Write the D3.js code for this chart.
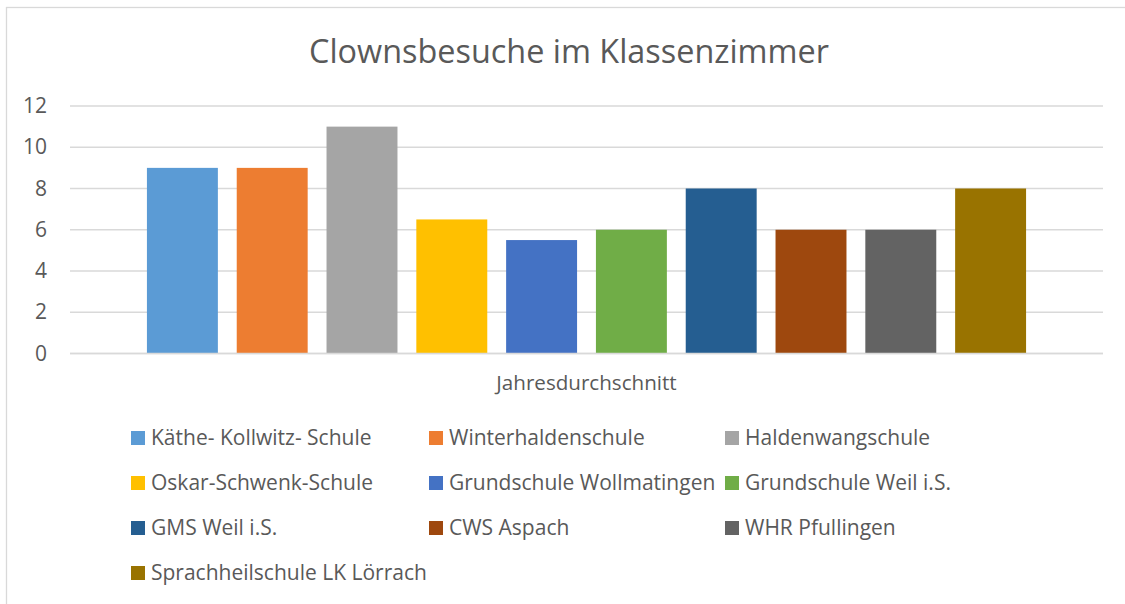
<!DOCTYPE html>
<html>
<head>
<meta charset="utf-8">
<script src="https://cdn.jsdelivr.net/npm/d3@7"></script>
<style>
  html, body { margin: 0; padding: 0; background: #fff; }
  svg { display: block; font-family: "Open Sans", sans-serif; }
</style>
</head>
<body>
<svg id="chart" width="1125" height="604"></svg>
<script>
const title = "Clownsbesuche im Klassenzimmer";
const category = "Jahresdurchschnitt";
const schools = [
  "Käthe- Kollwitz- Schule", "Winterhaldenschule", "Haldenwangschule",
  "Oskar-Schwenk-Schule", "Grundschule Wollmatingen", "Grundschule Weil i.S.",
  "GMS Weil i.S.", "CWS Aspach", "WHR Pfullingen", "Sprachheilschule LK Lörrach"
];
const values = [9, 9, 11, 6.5, 5.5, 6, 8, 6, 6, 8];
const colors = ["#5B9BD5", "#ED7D31", "#A5A5A5", "#FFC000", "#4472C4",
                "#70AD47", "#255E91", "#9E480E", "#636363", "#997300"];
const yTicks = [0, 2, 4, 6, 8, 10, 12];

const svg = d3.select("#chart");
const textColor = "#595959";

// chart area border
svg.append("rect").attr("x", 6.5).attr("y", 7.5).attr("width", 1140).attr("height", 620)
  .attr("fill", "none").attr("stroke", "#d9d9d9").attr("stroke-width", 1.3);

const plot = { left: 70, right: 1103, top: 106, bottom: 353.5 };

const y = d3.scaleLinear().domain([0, 12]).range([plot.bottom, plot.top]);
const x = d3.scaleBand().domain(schools).range([137.5, 1035.5])
  .paddingInner(0.21).paddingOuter(0.105);

// gridlines
svg.append("g").selectAll("line").data(yTicks).join("line")
  .attr("x1", plot.left).attr("x2", plot.right)
  .attr("y1", d => y(d)).attr("y2", d => y(d))
  .attr("stroke", "#d9d9d9").attr("stroke-width", 1.3);

// y axis labels
const yAxis = d3.axisLeft(y).tickValues(yTicks).tickSize(0).tickPadding(0);
const gy = svg.append("g").attr("transform", "translate(47,0)").call(yAxis);
gy.select(".domain").remove();
gy.selectAll("text").attr("fill", textColor).attr("font-size", 21)
  .attr("font-family", "'Open Sans', sans-serif");

// bars
svg.append("g").selectAll("rect").data(schools).join("rect")
  .attr("x", d => x(d)).attr("width", x.bandwidth())
  .attr("y", (d, i) => y(values[i]))
  .attr("height", (d, i) => y(0) - y(values[i]))
  .attr("fill", (d, i) => colors[i]);

// baseline over bars
svg.append("line").attr("x1", plot.left).attr("x2", plot.right)
  .attr("y1", y(0)).attr("y2", y(0)).attr("stroke", "#d9d9d9").attr("stroke-width", 1.3);

// title
svg.append("text").attr("x", 569).attr("y", 63).attr("text-anchor", "middle")
  .attr("font-size", 32.4).attr("fill", textColor).text(title);

// category label
svg.append("text").attr("x", 586.5).attr("y", 390).attr("text-anchor", "middle")
  .attr("font-size", 20.6).attr("fill", textColor).text(category);

// legend
const colX = [131, 429, 725];
const rowY = [438, 483, 528, 573];
const lg = svg.append("g").selectAll("g").data(schools).join("g")
  .attr("transform", (d, i) => `translate(${colX[i % 3]},${rowY[Math.floor(i / 3)]})`);
lg.append("rect").attr("x", 0).attr("y", -7).attr("width", 14).attr("height", 14)
  .attr("fill", (d, i) => colors[i]);
lg.append("text").attr("x", 20).attr("y", 0).attr("dy", "0.35em")
  .attr("font-size", 21).attr("fill", textColor).text(d => d);
</script>
</body>
</html>
